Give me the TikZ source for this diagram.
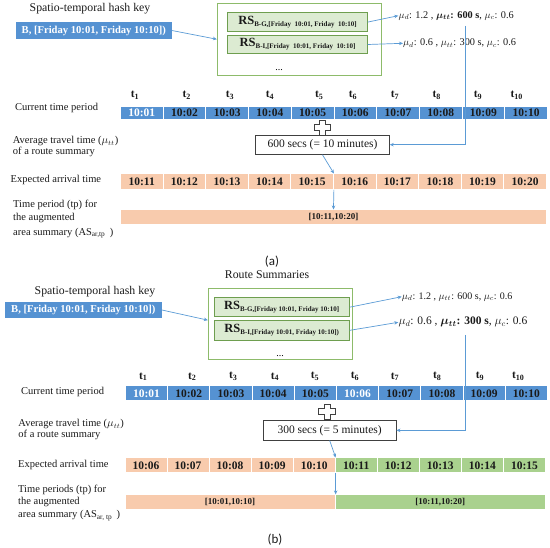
\documentclass[tikz,border=0pt]{standalone}
\usepackage{fontspec}
\setmainfont{Liberation Serif}
\newfontfamily\capfont{Carlito}
\usepackage{amsmath,bm}
\usetikzlibrary{arrows.meta}
\definecolor{cblue}{HTML}{5592D2}
\definecolor{corange}{HTML}{F8CBAD}
\definecolor{cgreen}{HTML}{A9D18E}
\definecolor{gborder}{HTML}{8DBB6A}
\definecolor{gfill}{HTML}{DCEBD2}
\definecolor{gib}{HTML}{6E9E4F}
\definecolor{lineblue}{HTML}{5B9BD5}
\definecolor{txt}{HTML}{1A1A1A}
\definecolor{boxdraw}{HTML}{404040}
\newcommand\fsz[1]{\fontsize{#1}{#1}\selectfont}
\tikzset{
  cell/.style={draw=white, line width=0.9pt, inner sep=0pt, anchor=north west,
    font=\fsz{11.5}\bfseries, text=txt},
  tlab/.style={inner sep=0pt, font=\fsz{11.5}\bfseries, text=txt},
  lab/.style={inner sep=0pt, anchor=west, font=\fsz{10.5}, text=txt},
  title/.style={inner sep=0pt, font=\fsz{11.8}, text=txt},
  keybox/.style={fill=cblue, inner sep=0pt, font=\fsz{10.6}\bfseries, text=white},
  outerg/.style={draw=gborder, fill=white, line width=0.9pt, inner sep=0pt},
  rsbox/.style={draw=gib, fill=gfill, line width=0.8pt, inner sep=0pt, font=\fsz{12.5}\bfseries, text=txt},
  mutext/.style={inner sep=0pt, anchor=west, font=\fsz{10.3}, text=txt},
  tbox/.style={draw=boxdraw, fill=white, line width=0.9pt, inner sep=0pt, font=\fsz{11.5}, text=txt},
  conn/.style={draw=lineblue, line width=0.7pt, -{Stealth[length=4pt,width=3.5pt]}},
  caption/.style={inner sep=0pt, font=\capfont\fsz{13}, text=txt},
  plusshape/.pic={\draw[draw=boxdraw, fill=white, line width=0.8pt]
    (-3,-7.5) -- (3,-7.5) -- (3,-3) -- (8.3,-3) -- (8.3,3) -- (3,3) -- (3,7.5)
    -- (-3,7.5) -- (-3,3) -- (-8.3,3) -- (-8.3,-3) -- (-3,-3) -- cycle;}
}
\newcommand\rssub[1]{{\fsz{7}\raisebox{-2.2pt}{#1}}}
\begin{document}
\begin{tikzpicture}[x=1pt,y=-1pt]
\useasboundingbox (0,0) rectangle (550,548);

% ================= (a) =================
\node[title] (hka) at (90,9) {Spatio-temporal hash key};
\node[keybox, minimum width=155.7pt, minimum height=17.6pt] (ka) at (93.85,30.5) {B, [Friday 10:01, Friday 10:10])};
\node[outerg, minimum width=164.4pt, minimum height=71.5pt] (ga) at (299.5,39.25) {};
\node[rsbox, minimum width=139.6pt, minimum height=18.8pt] (rsa1) at (297.5,22.1) {RS\rssub{B-G,[Friday~~10:01, Friday~~10:10]}};
\node[rsbox, minimum width=139.6pt, minimum height=18pt] (rsa2) at (297.5,44.5) {RS\rssub{B-I,[Friday~~10:01, Friday~~10:10]}};
\node[inner sep=0pt, anchor=base, font=\fsz{10}] (dota) at (279,70.5) {...};
\node[mutext] (mua1) at (398.3,15.7) {$\mu_d$: 1.2 , $\bm{\mu_{tt}}$\textbf{: 600 s}, $\mu_c$: 0.6};
\node[mutext] (mua2) at (403,43.3) {$\mu_d$: 0.6 , $\mu_{tt}$: 300 s, $\mu_c$: 0.6};

\foreach \i/\x in {1/135,2/186.7,3/230,4/270,5/319.3,6/353,7/395,8/436.7,9/478,10/516.7}
  \node[tlab] (tla\i) at (\x,95) {t\textsubscript{\i}};
\foreach \i/\t/\c in {1/10:01/white,2/10:02/txt,3/10:03/txt,4/10:04/txt,5/10:05/txt,6/10:06/txt,7/10:07/txt,8/10:08/txt,9/10:09/txt,10/10:10/txt}
  \node[cell, fill=cblue, text=\c, minimum width=42.7pt, minimum height=12.7pt] (ca\i) at ({120+(\i-1)*42.7},106) {\t};
\foreach \i/\t in {1/10:11,2/10:12,3/10:13,4/10:14,5/10:15,6/10:16,7/10:17,8/10:18,9/10:19,10/10:20}
  \node[cell, fill=corange, minimum width=42.6pt, minimum height=15.5pt] (ea\i) at ({120+(\i-1)*42.6},173.5) {\t};
\node[cell, fill=corange, minimum width=426pt, minimum height=14.5pt, font=\fsz{9}\bfseries] (aa) at (120,209.5) {[10:11,10:20]};

\node[lab] (la1) at (15,108.3) {Current time period};
\node[lab] (la2) at (12.7,141) {Average travel time ($\mu_{tt}$)};
\node[lab] (la3) at (12.7,151.7) {of a route summary};
\node[lab] (la4) at (10.5,179.8) {Expected arrival time};
\node[lab] (la5) at (13,205) {Time period (tp) for};
\node[lab] (la6) at (13,218) {the augmented};
\node[lab] (la7) at (13,233) {area summary (AS\textsubscript{ar,tp}\, )};

\pic at (322.5,127.5) {plusshape};
\node[tbox, minimum width=133.6pt, minimum height=19.3pt] (pa) at (322.5,144.7) {600 secs (= 10 minutes)};
\coordinate (va) at (465,26);

\draw[conn] (ka.east) -- (ga.west);
\draw[conn] (rsa1.east) -- (mua1.west);
\draw[conn] (rsa2.east) -- (mua2.west);
\draw[conn] (va) |- (pa.east);
\draw[conn] (pa.south) -- (ea5.north east);
\draw[conn] (ea5.south east) -- (aa.north);

\node[caption] (capa) at (272,262) {(a)};

% ================= (b) =================
\node[title] (rsum) at (267,275) {Route Summaries};
\node[title] (hkb) at (95,291.7) {Spatio-temporal hash key};
\node[keybox, minimum width=156.7pt, minimum height=16.6pt] (kb) at (83.35,310) {B, [Friday 10:01, Friday 10:10])};
\node[outerg, minimum width=144.4pt, minimum height=70.7pt] (gb) at (280.5,323.65) {};
\node[rsbox, minimum width=135.3pt, minimum height=19pt] (rsb1) at (281.65,307.2) {RS\rssub{B-G,[Friday 10:01, Friday 10:10]}};
\node[rsbox, minimum width=135.3pt, minimum height=19.3pt] (rsb2) at (281.65,330.35) {RS\rssub{B-I,[Friday 10:01, Friday 10:10])}};
\node[inner sep=0pt, anchor=base, font=\fsz{10}] (dotb) at (280,356.5) {...};
\node[mutext, font=\fsz{10}] (mub1) at (401.7,296.7) {$\mu_d$: 1.2 , $\mu_{tt}$: 600 s, $\mu_c$: 0.6};
\node[mutext, font=\fsz{11.5}] (mub2) at (398.3,322.3) {$\mu_d$: 0.6 , $\bm{\mu_{tt}}$\textbf{: 300 s}, $\mu_c$: 0.6};

\foreach \i/\x in {1/143.3,2/192.3,3/233.3,4/275,5/315,6/355,7/395,8/437.3,9/480,10/518.3}
  \node[tlab] (tlb\i) at (\x,376.7) {t\textsubscript{\i}};
\foreach \i/\t/\c in {1/10:01/white,2/10:02/txt,3/10:03/txt,4/10:04/txt,5/10:05/txt,6/10:06/white,7/10:07/txt,8/10:08/txt,9/10:09/txt,10/10:10/txt}
  \node[cell, fill=cblue, text=\c, minimum width=42.2pt, minimum height=15pt] (cb\i) at ({125+(\i-1)*42.2},385.5) {\t};
\foreach \i/\t/\f in {1/10:06/corange,2/10:07/corange,3/10:08/corange,4/10:09/corange,5/10:10/corange,6/10:11/cgreen,7/10:12/cgreen,8/10:13/cgreen,9/10:14/cgreen,10/10:15/cgreen}
  \node[cell, fill=\f, minimum width=42.05pt, minimum height=14.8pt] (eb\i) at ({124.5+(\i-1)*42.05},457.5) {\t};
\node[cell, fill=corange, minimum width=210.25pt, minimum height=14.7pt, font=\fsz{9}\bfseries] (ab1) at (124.5,494.4) {[10:01,10:10]};
\node[cell, fill=cgreen, minimum width=210.25pt, minimum height=14.7pt, font=\fsz{9}\bfseries] (ab2) at (334.75,494.4) {[10:11,10:20]};

\node[lab] (lb1) at (21,391.7) {Current time period};
\node[lab] (lb2) at (18.3,424) {Average travel time ($\mu_{tt}$)};
\node[lab] (lb3) at (18.3,435) {of a route summary};
\node[lab] (lb4) at (18,464.6) {Expected arrival time};
\node[lab] (lb5) at (18,490.2) {Time periods (tp) for};
\node[lab] (lb6) at (18,502.4) {the augmented};
\node[lab] (lb7) at (18,515.5) {area summary (AS\textsubscript{ar, tp}\, )};

\pic at (327,411.7) {plusshape};
\node[tbox, minimum width=132.7pt, minimum height=19.3pt] (pb) at (329.65,430.35) {300 secs (= 5 minutes)};
\coordinate (vb) at (465,335);

\draw[conn] (kb.east) -- ([yshift=3.5pt]gb.west);
\draw[conn] (rsb1.east) -- (mub1.west);
\draw[conn] (rsb2.east) -- (mub2.west);
\draw[conn] (vb) |- (pb.east);
\draw[conn] (pb.south) -- (eb5.north east);
\draw[conn] (eb5.south east) -- (ab1.north east);

\node[caption] (capb) at (275,539.5) {(b)};
\end{tikzpicture}
\end{document}
